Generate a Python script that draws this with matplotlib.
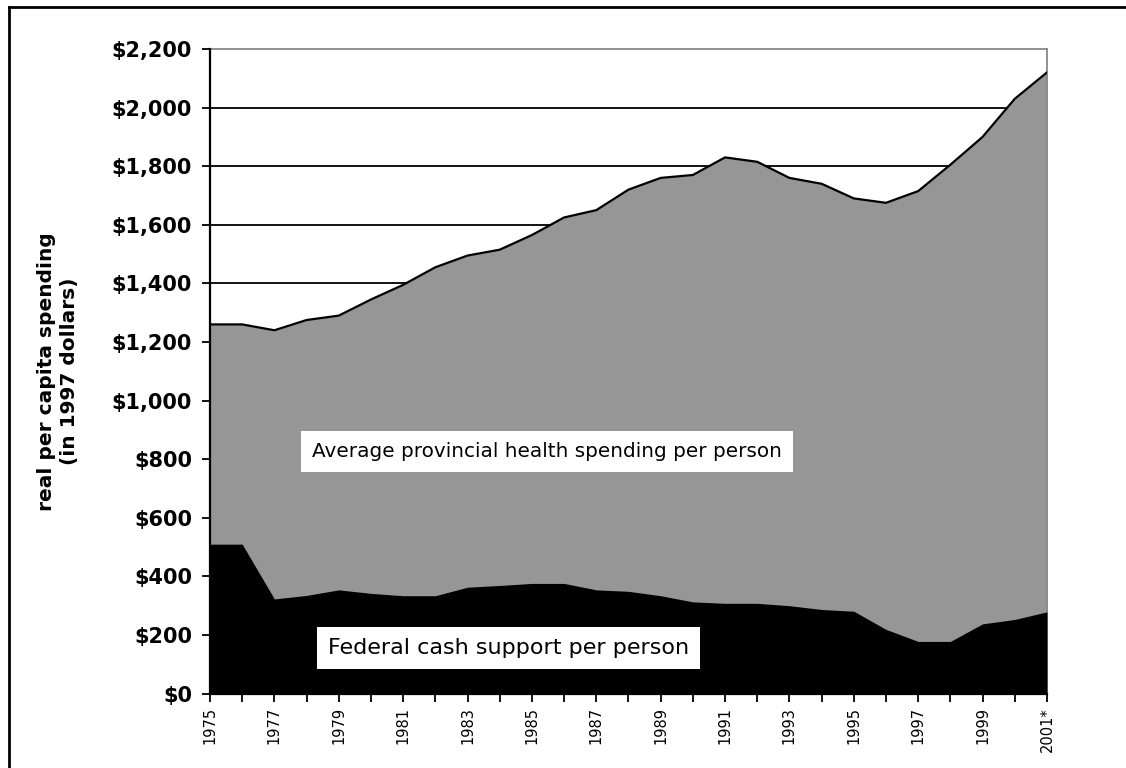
import matplotlib.pyplot as plt
from matplotlib.lines import Line2D

years = list(range(1975, 2002))
year_labels = [str(y) if (y - 1975) % 2 == 0 else "" for y in years]
year_labels[-1] = "2001*"

# total average provincial health spending per person (1997 dollars)
provincial = [1260, 1260, 1240, 1275, 1290, 1345, 1395, 1455, 1495, 1515,
              1565, 1625, 1650, 1720, 1760, 1770, 1830, 1815, 1760, 1740,
              1690, 1675, 1715, 1805, 1900, 2030, 2120]
# federal cash support per person
federal = [510, 510, 323, 335, 354, 342, 334, 334, 363, 369,
           376, 376, 354, 349, 334, 313, 308, 308, 300, 287,
           281, 219, 178, 178, 238, 253, 279]

yticks = list(range(0, 2201, 200))
ytick_labels = ["${:,}".format(v) for v in yticks]

plt.rcParams['font.family'] = ['DejaVu Sans']

fig = plt.figure(figsize=(11.26, 7.68), dpi=100)
ax = fig.add_axes([0.1865, 0.0969, 0.7433, 0.8393])

# gridlines behind the areas
for v in yticks[1:-1]:
    ax.axhline(v, color='black', lw=1.3, zorder=1)

ax.fill_between(years, 0, provincial, color='#969696', zorder=2, lw=0)
ax.plot(years, provincial, color='black', lw=1.6, zorder=3)
ax.fill_between(years, 0, federal, color='black', zorder=4, lw=0)

ax.set_xlim(1975, 2001)
ax.set_ylim(0, 2200)

ax.set_xticks(years)
ax.set_xticklabels(year_labels, rotation=90, fontsize=10.5)
ax.set_yticks(yticks)
ax.set_yticklabels(ytick_labels, fontsize=15, fontweight='bold')
ax.tick_params(axis='both', direction='out', length=6, width=1.3, color='black')
ax.tick_params(axis='y', pad=7)

for side in ['left', 'bottom']:
    ax.spines[side].set_color('black')
    ax.spines[side].set_linewidth(1.6)
for side in ['top', 'right']:
    ax.spines[side].set_color('#888888')
    ax.spines[side].set_linewidth(1.3)
ax.spines['left'].set_zorder(6)
ax.spines['bottom'].set_zorder(6)

ax.set_ylabel("real per capita spending\n(in 1997 dollars)", fontsize=14.5,
              fontweight='bold', linespacing=1.3)
ax.yaxis.set_label_coords(-0.156, 0.5)

ax.text(1978.17, 827, "Average provincial health spending per person",
        fontsize=14.4, va='center', ha='left', zorder=7,
        bbox=dict(facecolor='white', edgecolor='none', pad=8))
ax.text(1978.66, 155, "Federal cash support per person",
        fontsize=16, va='center', ha='left', zorder=7,
        bbox=dict(facecolor='white', edgecolor='none', pad=8))

# outer frame of the chart, cut off at right and bottom
fig.add_artist(Line2D([0.008, 0.008], [0.0, 0.991], color='black', lw=2,
                      transform=fig.transFigure))
fig.add_artist(Line2D([0.008, 1.0], [0.991, 0.991], color='black', lw=2,
                      transform=fig.transFigure))

fig.savefig('out.png', dpi=100)
